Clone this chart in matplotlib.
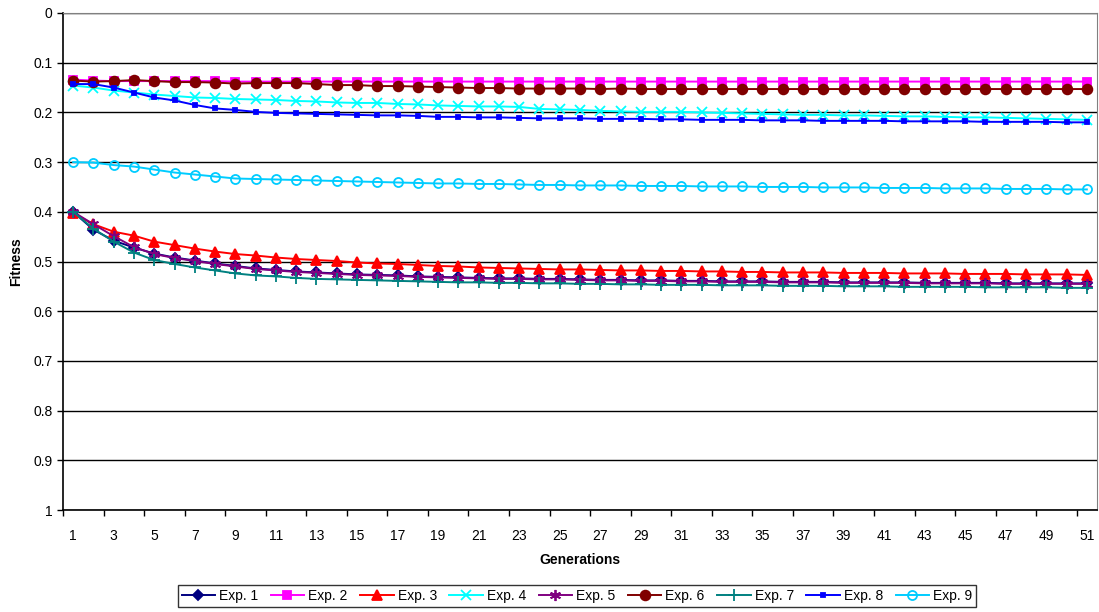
import numpy as np
import matplotlib.pyplot as plt
from matplotlib.ticker import FixedLocator, NullFormatter

plt.rcParams['font.family'] = ['Liberation Sans', 'DejaVu Sans']

generations = np.arange(1, 52)

# fitness per generation
exp1 = [0.400, 0.436, 0.458, 0.472, 0.484, 0.492, 0.498, 0.504, 0.509, 0.514,
        0.517, 0.520, 0.522, 0.524, 0.526, 0.527, 0.528, 0.530, 0.531, 0.532,
        0.533, 0.534, 0.534, 0.535, 0.535, 0.536, 0.537, 0.537, 0.538, 0.538,
        0.539, 0.539, 0.540, 0.540, 0.540, 0.541, 0.541, 0.541, 0.542, 0.542,
        0.542, 0.542, 0.543, 0.543, 0.543, 0.543, 0.544, 0.544, 0.544, 0.544,
        0.544]
exp2 = [0.134, 0.136, 0.137, 0.137, 0.137, 0.137, 0.137, 0.137, 0.138, 0.138,
        0.138, 0.138, 0.138, 0.138, 0.138, 0.138, 0.138, 0.138, 0.138, 0.138,
        0.138, 0.138, 0.138, 0.138, 0.138, 0.138, 0.138, 0.138, 0.138, 0.138,
        0.138, 0.138, 0.138, 0.138, 0.138, 0.138, 0.138, 0.138, 0.138, 0.138,
        0.138, 0.138, 0.138, 0.138, 0.138, 0.138, 0.138, 0.138, 0.138, 0.138,
        0.138]
exp3 = [0.403, 0.425, 0.440, 0.448, 0.460, 0.467, 0.474, 0.480, 0.485, 0.488,
        0.492, 0.495, 0.497, 0.499, 0.502, 0.504, 0.505, 0.507, 0.509, 0.510,
        0.512, 0.513, 0.514, 0.515, 0.516, 0.516, 0.517, 0.518, 0.518, 0.519,
        0.519, 0.520, 0.520, 0.521, 0.521, 0.522, 0.522, 0.522, 0.523, 0.523,
        0.523, 0.524, 0.524, 0.524, 0.525, 0.525, 0.525, 0.526, 0.526, 0.526,
        0.527]
exp4 = [0.146, 0.150, 0.156, 0.160, 0.164, 0.167, 0.170, 0.171, 0.173, 0.174,
        0.175, 0.177, 0.178, 0.180, 0.181, 0.181, 0.183, 0.184, 0.186, 0.187,
        0.188, 0.188, 0.189, 0.193, 0.194, 0.195, 0.197, 0.198, 0.199, 0.199,
        0.199, 0.200, 0.201, 0.202, 0.203, 0.204, 0.205, 0.205, 0.206, 0.206,
        0.207, 0.208, 0.208, 0.209, 0.210, 0.210, 0.211, 0.212, 0.213, 0.214,
        0.215]
exp5 = [0.400, 0.425, 0.449, 0.471, 0.485, 0.493, 0.499, 0.505, 0.510, 0.515,
        0.518, 0.521, 0.523, 0.525, 0.527, 0.528, 0.529, 0.531, 0.532, 0.533,
        0.534, 0.535, 0.535, 0.536, 0.536, 0.537, 0.538, 0.538, 0.539, 0.539,
        0.540, 0.540, 0.541, 0.541, 0.541, 0.542, 0.542, 0.542, 0.543, 0.543,
        0.543, 0.543, 0.544, 0.544, 0.544, 0.544, 0.545, 0.545, 0.545, 0.545,
        0.545]
exp6 = [0.136, 0.138, 0.137, 0.135, 0.137, 0.139, 0.139, 0.140, 0.142, 0.141,
        0.141, 0.141, 0.143, 0.145, 0.145, 0.147, 0.147, 0.148, 0.149, 0.150,
        0.151, 0.151, 0.152, 0.152, 0.152, 0.152, 0.153, 0.152, 0.153, 0.153,
        0.153, 0.153, 0.153, 0.153, 0.153, 0.153, 0.153, 0.153, 0.153, 0.153,
        0.153, 0.153, 0.153, 0.153, 0.153, 0.153, 0.153, 0.153, 0.153, 0.153,
        0.153]
exp7 = [0.400, 0.434, 0.460, 0.482, 0.497, 0.505, 0.512, 0.518, 0.524, 0.528,
        0.530, 0.533, 0.535, 0.536, 0.537, 0.538, 0.539, 0.540, 0.541, 0.542,
        0.542, 0.543, 0.543, 0.544, 0.544, 0.545, 0.545, 0.546, 0.546, 0.547,
        0.547, 0.547, 0.548, 0.548, 0.548, 0.549, 0.549, 0.549, 0.550, 0.550,
        0.550, 0.551, 0.551, 0.551, 0.551, 0.552, 0.552, 0.552, 0.552, 0.553,
        0.553]
exp8 = [0.143, 0.143, 0.150, 0.160, 0.170, 0.176, 0.185, 0.192, 0.195, 0.199,
        0.201, 0.202, 0.203, 0.204, 0.205, 0.206, 0.206, 0.207, 0.209, 0.209,
        0.210, 0.210, 0.211, 0.212, 0.212, 0.212, 0.213, 0.213, 0.213, 0.214,
        0.214, 0.215, 0.215, 0.215, 0.216, 0.216, 0.216, 0.217, 0.217, 0.217,
        0.217, 0.218, 0.218, 0.218, 0.218, 0.219, 0.219, 0.219, 0.219, 0.220,
        0.220]
exp9 = [0.300, 0.301, 0.306, 0.309, 0.315, 0.321, 0.325, 0.329, 0.333, 0.334,
        0.335, 0.336, 0.337, 0.338, 0.339, 0.340, 0.341, 0.342, 0.343, 0.343,
        0.344, 0.344, 0.345, 0.346, 0.346, 0.347, 0.347, 0.347, 0.348, 0.348,
        0.348, 0.349, 0.349, 0.349, 0.350, 0.350, 0.350, 0.351, 0.351, 0.351,
        0.352, 0.352, 0.352, 0.353, 0.353, 0.353, 0.354, 0.354, 0.354, 0.355,
        0.355]

labels = ["Exp. 1", "Exp. 2", "Exp. 3", "Exp. 4", "Exp. 5",
          "Exp. 6", "Exp. 7", "Exp. 8", "Exp. 9"]
series = [exp1, exp2, exp3, exp4, exp5, exp6, exp7, exp8, exp9]

# (colour, marker, marker size, filled)
styles = [("#000080", "D", 5, True),
          ("#FF00FF", "s", 6, True),
          ("#FF0000", "^", 7, True),
          ("#00FFFF", "x", 7, True),
          ("#800080", (6, 2, 0), 8, True),
          ("#800000", "o", 7, True),
          ("#008080", "+", 8, True),
          ("#0000FF", "s", 2.5, True),
          ("#00CCFF", "o", 6.5, False)]

fig = plt.figure(figsize=(10.99, 6.12), dpi=100)
ax = fig.add_axes([63/1099, 1 - 510/612, (1097 - 63)/1099, (510 - 13)/612])

for vals, lab, (col, mk, ms, filled) in zip(series, labels, styles):
    ax.plot(generations, vals, color=col, marker=mk, markersize=ms, lw=1.4,
            markerfacecolor=col if filled else "none", markeredgecolor=col,
            markeredgewidth=1.3, label=lab, clip_on=False)

ax.set_xlim(0.5, 51.5)
ax.set_ylim(1, 0)
ax.set_yticks(np.arange(0, 1.01, 0.1))
ax.set_yticklabels(["0", "0.1", "0.2", "0.3", "0.4", "0.5",
                    "0.6", "0.7", "0.8", "0.9", "1"])
ax.yaxis.grid(True, color="black", lw=1)
ax.set_axisbelow(True)

# labels on every other generation, tick marks between categories
ax.set_xticks(generations[::2])
ax.xaxis.set_minor_locator(FixedLocator(np.arange(0.5, 52, 2)))
ax.xaxis.set_minor_formatter(NullFormatter())
ax.tick_params(axis="x", which="major", length=0, labelsize=10, pad=14)
ax.tick_params(axis="x", which="minor", length=4, width=1)
ax.tick_params(axis="y", length=4, width=1, labelsize=10)

for s in ["left", "bottom"]:
    ax.spines[s].set_color("black")
    ax.spines[s].set_linewidth(1.2)
for s in ["top", "right"]:
    ax.spines[s].set_color("#808080")

ax.set_xlabel("Generations", fontsize=10, fontweight="bold", labelpad=7)
ax.set_ylabel("Fitness", fontsize=10, fontweight="bold", labelpad=7)

leg = fig.legend(loc="center", bbox_to_anchor=(577/1099, 1 - 596/612), ncol=9,
                 fontsize=10, frameon=True, fancybox=False, edgecolor="black",
                 handlelength=2.4, handletextpad=0.3, columnspacing=0.9,
                 borderpad=0.3)
leg.get_frame().set_linewidth(1)

fig.savefig("out.png", dpi=100)
